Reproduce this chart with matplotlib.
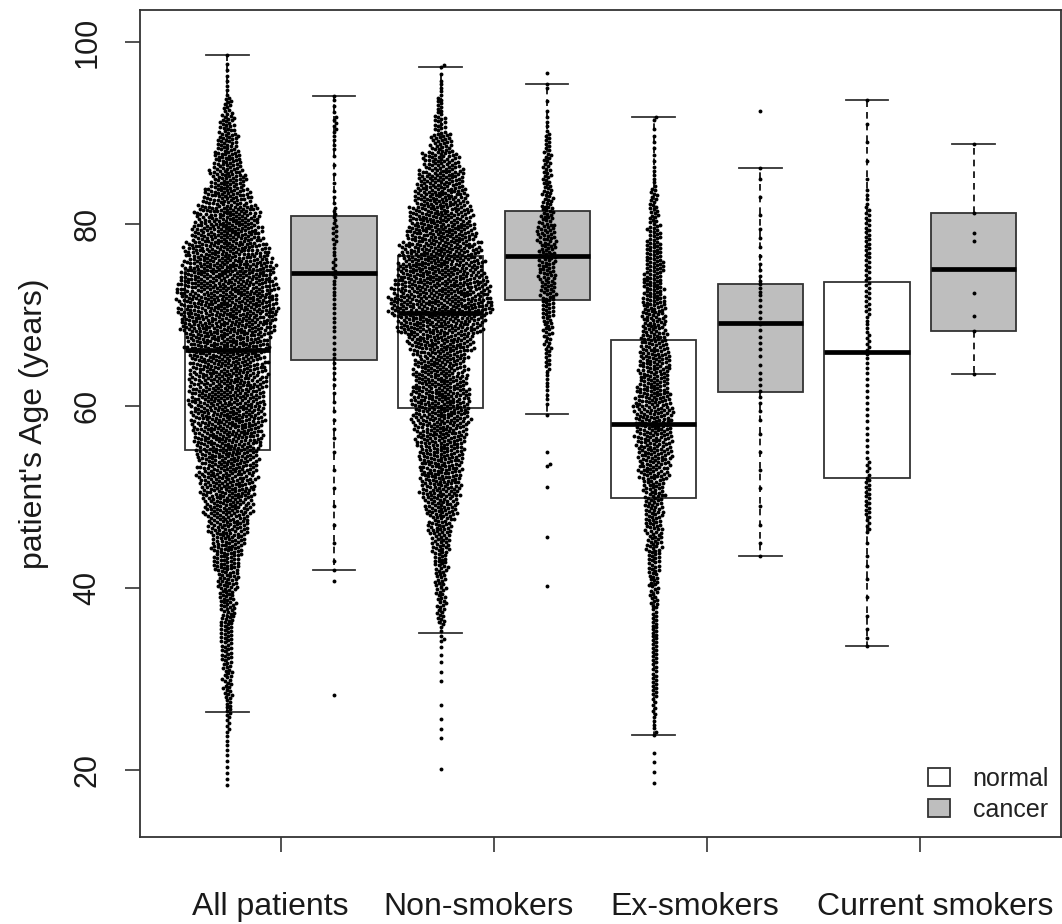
import numpy as np
import matplotlib.pyplot as plt
from matplotlib.patches import Patch

plt.rcParams['font.family'] = ['Liberation Sans', 'DejaVu Sans']

groups = ["All patients", "Non-smokers", "Ex-smokers", "Current smokers"]
status = ["normal", "cancer"]

# box statistics (normal, cancer for each group)
med = [66.2, 74.6, 70.2, 76.5, 58.0, 69.2, 66.0, 75.1]
q1 = [55.2, 65.1, 59.8, 71.7, 49.9, 61.6, 52.1, 68.3]
q3 = [74.9, 80.9, 76.5, 81.5, 67.3, 73.4, 73.7, 81.2]
whislo = [26.4, 42.0, 35.1, 59.1, 23.9, 43.5, 33.7, 63.5]
whishi = [98.6, 94.1, 97.3, 95.4, 91.8, 86.2, 93.7, 88.8]

# estimated number of patients per 2-year age bin, bins start at 18, 20, ..., 98
bin_start = list(range(18, 100, 2))
#              18 20 22 24  26  28  30  32  34  36  38  40  42  44  46  48  50  52  54  56   58   60   62   64   66   68   70   72   74   76   78  80  82  84  86  88  90  92 94 96 98
all_normal = [3, 3, 4, 6, 10, 13, 14, 16, 18, 21, 24, 30, 38, 46, 56, 68, 76, 82, 88, 98, 104, 106, 106, 106, 117, 132, 142, 138, 130, 118, 100, 90, 66, 50, 40, 30, 22, 12, 4, 3, 0]
all_cancer = [0, 0, 0, 0, 0, 0, 0, 0, 0, 0, 0, 0, 1, 1, 1, 1, 1, 1, 1, 2, 2, 2, 3, 4, 3, 4, 4, 5, 6, 5, 7, 6, 3, 2, 2, 4, 6, 3, 0, 0, 0]
non_normal = [0, 0, 0, 0, 0, 0, 0, 0, 4, 12, 14, 16, 20, 26, 34, 46, 56, 60, 64, 72, 80, 84, 76, 72, 92, 120, 145, 135, 124, 112, 100, 88, 76, 64, 50, 30, 16, 10, 5, 2, 0]
non_cancer = [0, 0, 0, 0, 0, 0, 0, 0, 0, 0, 0, 0, 0, 0, 0, 0, 0, 0, 0, 0, 1, 4, 5, 8, 11, 15, 19, 23, 24, 25, 26, 20, 16, 13, 12, 9, 4, 2, 1, 0, 0]
ex_normal = [0, 0, 0, 5, 6, 9, 8, 9, 10, 9, 12, 15, 18, 22, 24, 26, 30, 42, 48, 50, 52, 50, 42, 44, 38, 34, 34, 30, 27, 24, 18, 14, 11, 5, 3, 3, 2, 0, 0, 0, 0]
ex_cancer = [0, 0, 0, 0, 0, 0, 0, 0, 0, 0, 0, 0, 0, 1, 1, 1, 1, 1, 1, 1, 2, 3, 3, 2, 3, 3, 3, 5, 3, 2, 2, 1, 1, 1, 0, 0, 0, 0, 0, 0, 0]
cur_normal = [0, 0, 0, 0, 0, 0, 0, 0, 2, 1, 1, 1, 2, 1, 6, 8, 8, 6, 3, 3, 3, 3, 3, 4, 6, 5, 7, 7, 7, 8, 8, 7, 4, 1, 1, 1, 1, 0, 0, 0, 0]
cur_cancer = [0] * 41

# single points read one by one (extremes and outliers)
all_normal_pts = [98.6]
all_cancer_pts = [28.3, 40.8, 42.0, 94.1]
non_normal_pts = [20.1, 23.5, 24.5, 25.6, 27.2, 29.8, 30.8, 31.9, 32.7, 33.6, 34.4, 97.3]
non_cancer_pts = [40.3, 45.6, 51.1, 53.4, 53.7, 55.0, 95.4, 96.6]
ex_normal_pts = [18.6, 19.8, 20.9, 21.9, 23.9, 91.8]
ex_cancer_pts = [43.5, 86.2, 92.4]
cur_normal_pts = [33.7, 93.7]
cur_cancer_pts = [63.5, 68.3, 69.9, 72.4, 78.2, 79.0, 81.2, 88.8]

counts = [all_normal, all_cancer, non_normal, non_cancer, ex_normal, ex_cancer, cur_normal, cur_cancer]
singles = [all_normal_pts, all_cancer_pts, non_normal_pts, non_cancer_pts,
           ex_normal_pts, ex_cancer_pts, cur_normal_pts, cur_cancer_pts]
fills = ["white", "#BEBEBE"] * 4

# where R put the group names (a bit off the ticks)
label_x = [1.40, 3.36, 5.38, 7.64]


def ages_from_bins(cnt, extra):
    ages = list(extra)
    for b, n in zip(bin_start, cnt):
        if n:
            ages += list(b + (np.arange(n) + 0.5) * 2.0 / n)
    return np.array(ages)


def swarm(y_px, d):
    # place points close to the centre line without overlap (like R beeswarm)
    order = np.argsort(y_px, kind="stable")
    xs = np.zeros(len(y_px))
    py = np.empty(len(y_px))
    px = np.empty(len(y_px))
    n = 0
    start = 0
    for i in order:
        yi = y_px[i]
        while start < n and yi - py[start] >= d:
            start += 1
        ny = py[start:n]
        nx = px[start:n]
        x = 0.0
        if n > start:
            dy = yi - ny
            dx = np.sqrt(np.maximum(d * d - dy * dy, 0))
            cand = np.concatenate(([0.0], nx + dx, nx - dx))
            ok = np.all((cand[:, None] - nx[None, :]) ** 2 + dy[None, :] ** 2 >= d * d - 1e-6, axis=1)
            cand = cand[ok]
            x = cand[np.argmin(np.abs(cand))]
        xs[i] = x
        py[n] = yi
        px[n] = x
        n += 1
    return xs


fig = plt.figure(figsize=(10.62, 9.24), dpi=100)
ax = fig.add_axes([0.1318, 0.0942, 0.8672, 0.895])
ax.set_xlim(0.18, 8.82)
ax.set_ylim(12.67, 103.55)

positions = np.arange(1, 9)
stats = []
for i in range(8):
    stats.append(dict(med=med[i], q1=q1[i], q3=q3[i], whislo=whislo[i], whishi=whishi[i], fliers=[]))
bp = ax.bxp(stats, positions=positions, widths=0.8, patch_artist=True, showfliers=False,
            boxprops=dict(edgecolor="#333333", linewidth=1.3),
            whiskerprops=dict(color="black", linewidth=1.2, linestyle=(0, (4, 3))),
            capprops=dict(color="#333333", linewidth=1.3),
            medianprops=dict(color="black", linewidth=3.4, solid_capstyle="butt"))
for patch, c in zip(bp["boxes"], fills):
    patch.set_facecolor(c)

# pixel scale of the data axes
fig.canvas.draw()
p0 = ax.transData.transform((0, 0))
p1 = ax.transData.transform((1, 1))
sx = p1[0] - p0[0]
sy = p1[1] - p0[1]

for i in range(8):
    ages = ages_from_bins(counts[i], singles[i])
    off = swarm(ages * sy, 3.6)
    ax.plot(positions[i] + off / sx, ages, "o", ms=2.8, color="black", mec="none", zorder=4)

ax.set_xticks([1.5, 3.5, 5.5, 7.5], [""] * 4)
for xl, name in zip(label_x, groups):
    ax.text(xl, -0.094, name, transform=ax.get_xaxis_transform(), ha="center", va="baseline",
            fontsize=23, color="#1a1a1a")
ax.set_yticks([20, 40, 60, 80, 100])
ax.tick_params(axis="x", length=11, width=1.2, color="#333333")
ax.tick_params(axis="y", length=11, width=1.2, color="#333333", pad=16, labelsize=22,
               labelrotation=90, labelcolor="#1a1a1a")
for lab in ax.get_yticklabels():
    lab.set_va("center")
ax.set_ylabel("patient's Age (years)", fontsize=23, color="#1a1a1a", labelpad=17)
for s in ax.spines.values():
    s.set_color("#333333")
    s.set_linewidth(1.3)

handles = [Patch(facecolor=c, edgecolor="#333333", linewidth=1.3) for c in ["white", "#BEBEBE"]]
ax.legend(handles, status, loc="lower right", bbox_to_anchor=(0.987, 0.018), frameon=False,
          fontsize=18, handlelength=0.9, handleheight=0.72, handletextpad=0.9,
          labelspacing=0.3, borderpad=0, borderaxespad=0, labelcolor="#222222")

fig.savefig("out.png", dpi=100)
